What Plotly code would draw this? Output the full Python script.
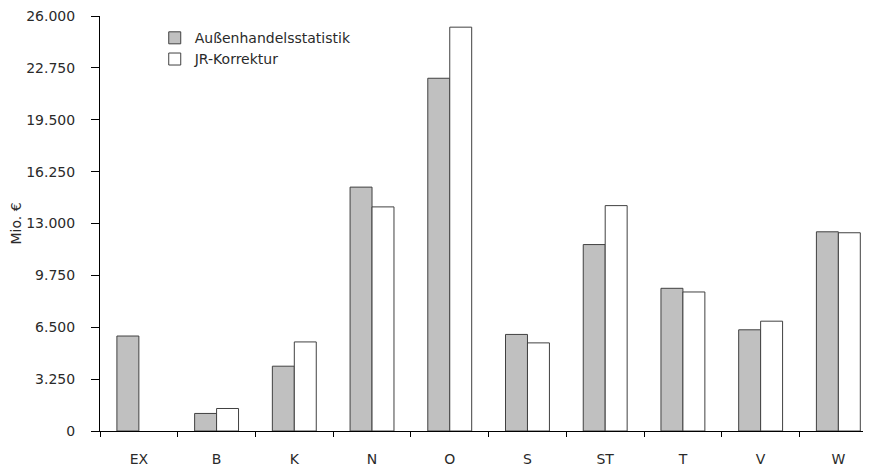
import plotly.graph_objects as go

categories = ["EX", "B", "K", "N", "O", "S", "ST", "T", "V", "W"]
aussenhandel = [5950, 1100, 4060, 15280, 22100, 6050, 11680, 8940, 6340, 12480]
jr_korrektur = [None, 1410, 5580, 14040, 25300, 5520, 14120, 8710, 6880, 12420]
y_ticks = [0, 3250, 6500, 9750, 13000, 16250, 19500, 22750, 26000]

FONT = "DejaVu Sans"
TXT = "#2a2a2a"

fig = go.Figure()
fig.add_trace(go.Bar(
    x=categories, y=aussenhandel, name="Außenhandelsstatistik",
    marker=dict(color="#c0c0c0", line=dict(color="#404040", width=1)),
))
fig.add_trace(go.Bar(
    x=categories, y=jr_korrektur, name="JR-Korrektur",
    marker=dict(color="#ffffff", line=dict(color="#404040", width=1)),
))

fig.update_layout(
    width=863, height=463,
    margin=dict(l=90, r=0, t=5, b=40),
    paper_bgcolor="white", plot_bgcolor="white",
    barmode="group", bargap=0.435, bargroupgap=0,
    separators=",.",
    font=dict(family=FONT, size=14, color=TXT),
    showlegend=True,
    legend=dict(x=0.071, y=0.985, xanchor="left", yanchor="top",
                bgcolor="rgba(0,0,0,0)", font=dict(size=14, color=TXT),
                itemwidth=30, tracegroupgap=0),
    xaxis=dict(
        type="category", range=[-0.5, 9.42],
        showline=True, linecolor="black", linewidth=1,
        ticks="outside", tickson="boundaries", ticklen=5, tickcolor="black",
        ticklabelstandoff=15,
        showgrid=False, zeroline=False, fixedrange=True,
    ),
    yaxis=dict(
        range=[0, 26000], tickvals=y_ticks, tickformat=",d",
        showline=True, linecolor="black", linewidth=1,
        ticks="outside", ticklen=8, tickcolor="black",
        ticklabelstandoff=13, ticklabeloverflow="allow",
        showgrid=False, zeroline=False,
        title=dict(text="Mio. €", standoff=8, font=dict(size=14)),
    ),
)

fig.write_html("out.html")
